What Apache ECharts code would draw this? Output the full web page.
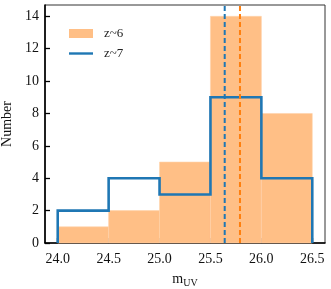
<!DOCTYPE html>
<html><head><meta charset="utf-8">
<script src="https://cdn.jsdelivr.net/npm/echarts@6/dist/echarts.min.js"></script>
<style>html,body{margin:0;padding:0;background:#fff}#c{width:331px;height:289px}</style>
</head><body><div id="c"></div>
<script>
const binEdges = [24.0, 24.5, 25.0, 25.5, 26.0, 26.5];
const countsZ6 = [1, 2, 5, 14, 8];
const countsZ7 = [2, 4, 3, 9, 4];
const medianZ6 = 25.79;
const medianZ7 = 25.64;
const xTicks = [24.0, 24.5, 25.0, 25.5, 26.0, 26.5];
const yTicks = [0, 2, 4, 6, 8, 10, 12, 14];

const FONT = '"Liberation Serif", "DejaVu Serif", serif';
const ORANGE = '#ff7f0e', ORANGE_FILL = '#ffbf86', BLUE = '#1f77b4';

const barData = countsZ6.map((c, i) => [binEdges[i], binEdges[i + 1], c]);
const stepData = [[binEdges[0], 0]];
countsZ7.forEach((c, i) => { stepData.push([binEdges[i], c]); stepData.push([binEdges[i + 1], c]); });
stepData.push([binEdges[binEdges.length - 1], 0]);

const chart = echarts.init(document.getElementById('c'), null, {renderer: 'canvas'});
chart.setOption({
  animation: false,
  textStyle: {fontFamily: FONT},
  grid: {left: 45, right: 6, top: 5, bottom: 46, show: true, borderColor: '#333', borderWidth: 1,
    containLabel: false, outerBoundsMode: 'none'},
  legend: {
    left: 64, top: 22, orient: 'vertical', itemGap: 7, itemWidth: 24, itemHeight: 9,
    textStyle: {fontFamily: FONT, fontSize: 13, color: '#222', padding: [0, 0, 0, 6]},
    data: [
      {name: 'z~6', icon: 'rect', itemStyle: {color: ORANGE_FILL}},
      {name: 'z~7', icon: 'path://M0,3.3 L24,3.3 L24,5.7 L0,5.7 Z', itemStyle: {color: BLUE}}
    ]
  },
  xAxis: {
    type: 'value', min: 23.875, max: 26.625,
    name: '{m|m}{s|UV}', nameLocation: 'middle', nameGap: 27,
    nameTextStyle: {rich: {m: {fontFamily: FONT, fontSize: 14, color: '#111'}, s: {fontFamily: FONT, fontSize: 10, color: '#111', verticalAlign: 'bottom', padding: [8, 0, 0, 0]}}},
    axisLine: {show: true, onZero: false, lineStyle: {color: '#000', width: 1.6}},
    axisTick: {show: true, inside: true, length: 5, customValues: xTicks, lineStyle: {color: '#000', width: 1.3}},
    axisLabel: {customValues: xTicks, formatter: v => v.toFixed(1), fontFamily: FONT, fontSize: 14, color: '#111', margin: 9},
    splitLine: {show: false}
  },
  yAxis: {
    type: 'value', min: 0, max: 14.7,
    name: 'Number', nameLocation: 'middle', nameGap: 25, nameRotate: 90,
    nameTextStyle: {fontFamily: FONT, fontSize: 14, color: '#111'},
    axisLine: {show: true, lineStyle: {color: '#000', width: 1.6}},
    axisTick: {show: true, inside: true, length: 5, customValues: yTicks, lineStyle: {color: '#000', width: 1.3}},
    axisLabel: {customValues: yTicks, fontFamily: FONT, fontSize: 14, color: '#111', margin: 6},
    splitLine: {show: false}
  },
  series: [
    {
      name: 'z~6', type: 'custom', data: barData, z: 1,
      itemStyle: {color: ORANGE_FILL},
      encode: {x: [0, 1], y: 2},
      renderItem: function (params, api) {
        const p0 = api.coord([api.value(0), api.value(2)]);
        const p1 = api.coord([api.value(1), 0]);
        return {type: 'rect', shape: {x: p0[0], y: p0[1], width: p1[0] - p0[0], height: p1[1] - p0[1]},
          style: {fill: ORANGE_FILL, stroke: '#ffd2aa', lineWidth: 0.6}};
      }
    },
    {
      name: 'z~7', type: 'line', data: stepData, showSymbol: false, symbol: 'none', z: 3,
      lineStyle: {color: BLUE, width: 2.6, join: 'miter'}, itemStyle: {color: BLUE}
    },
    {
      name: 'medZ7', type: 'line', data: [[medianZ7, 0], [medianZ7, 14.7]], symbol: 'none', z: 4,
      lineStyle: {color: BLUE, width: 2, type: [5, 3]}
    },
    {
      name: 'medZ6', type: 'line', data: [[medianZ6, 0], [medianZ6, 14.7]], symbol: 'none', z: 4,
      lineStyle: {color: ORANGE, width: 2, type: [5, 3]}
    }
  ]
});
</script></body></html>
